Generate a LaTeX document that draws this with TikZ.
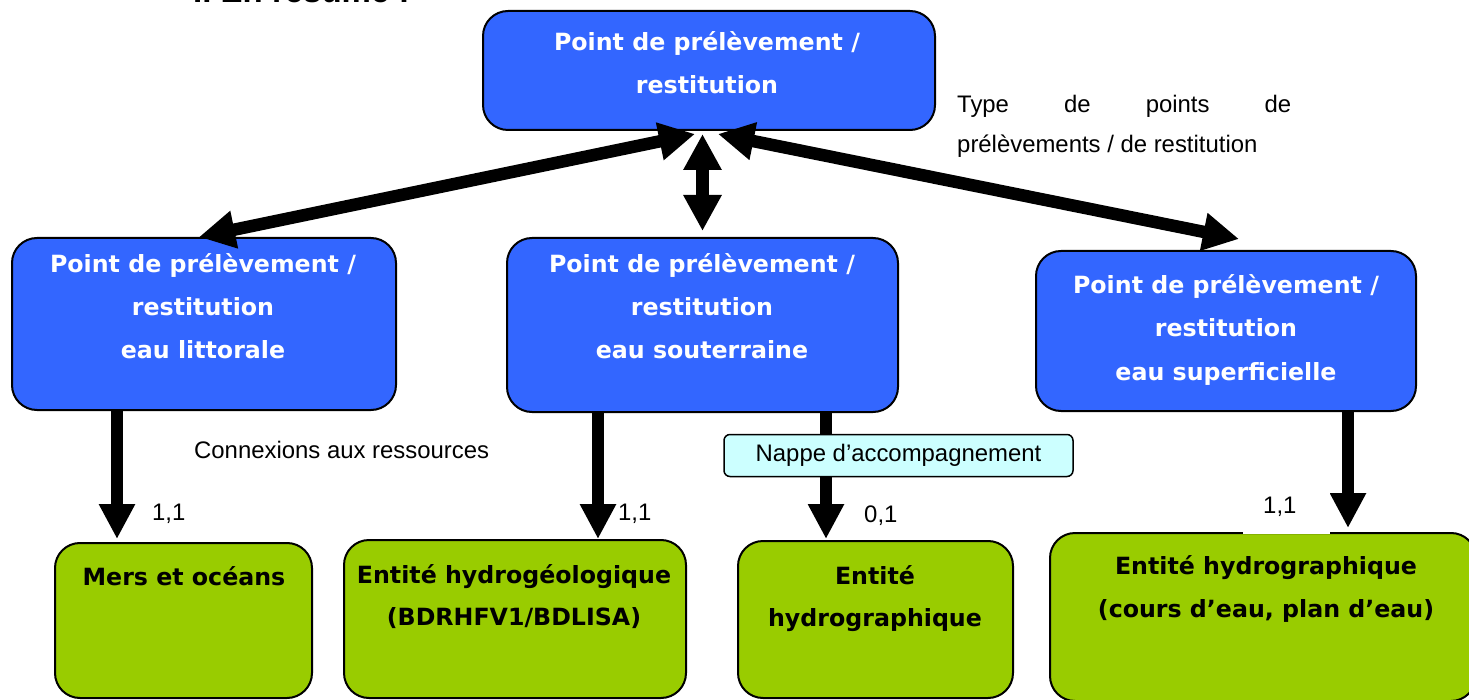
\documentclass[tikz,border=0pt]{standalone}
\usepackage{fontspec}
\setmainfont{Liberation Sans}
\newfontfamily\boxfont{DejaVu Sans}
\usetikzlibrary{arrows.meta,calc}
\definecolor{pblue}{HTML}{3366FF}
\definecolor{pgreen}{HTML}{99CC00}
\definecolor{pcyan}{HTML}{CCFFFF}
\tikzset{
  box/.style={draw=black, line width=2pt, rounded corners=25pt, inner sep=0pt},
  bluebox/.style={box, fill=pblue},
  greenbox/.style={box, fill=pgreen},
  boxtext/.style={font=\boxfont\bfseries\fontsize{23.7}{43}\selectfont, align=center, inner sep=0pt, anchor=base},
  wtext/.style={boxtext, text=white},
  btext/.style={boxtext, text=black},
  lbl/.style={font=\fontsize{23.9}{40}\selectfont, inner sep=0pt, anchor=base west},
  dblarrow/.style={line width=12.5pt, {Triangle[length=36pt,width=36pt]}-{Triangle[length=36pt,width=36pt]}},
  downarrow/.style={line width=12.5pt, -{Triangle[length=35pt,width=34pt]}},
}
\begin{document}
\begin{tikzpicture}[x=1pt,y=-1pt]
\useasboundingbox (0,0) rectangle (1469,700);

% heading (cut off at the top)
\node[font=\bfseries\fontsize{33}{33}\selectfont, anchor=base west, inner sep=0pt] (hd) at (193,3) {I. En résumé :};

% blue boxes
\node[bluebox, minimum width=452pt, minimum height=119pt] (T) at (709,70.5) {};
\node[bluebox, minimum width=384pt, minimum height=172pt] (L) at (204,324) {};
\node[bluebox, minimum width=391pt, minimum height=174pt] (M) at (702.5,325) {};
\node[bluebox, minimum width=380pt, minimum height=160pt] (R) at (1226,331) {};

% green boxes
\node[greenbox, minimum width=257pt, minimum height=155pt] (G1) at (183.5,620.5) {};
\node[greenbox, minimum width=342pt, minimum height=158pt] (G2) at (515,619) {};
\node[greenbox, minimum width=275pt, minimum height=157pt] (G3) at (875.5,619.5) {};
\node[greenbox, minimum width=426pt, minimum height=168pt] (G4) at (1263,617) {};

% box texts (anchor=base is the baseline of the last line)
\node[wtext] (Tt) at (707,94) {Point de prélèvement /\\restitution};
\node[wtext] (Lt) at (203,359) {Point de prélèvement /\\restitution\\eau littorale};
\node[wtext] (Mt) at (702,359) {Point de prélèvement /\\restitution\\eau souterraine};
\node[wtext, font=\boxfont\bfseries\fontsize{23.7}{44}\selectfont] (Rt) at (1226,381) {Point de prélèvement /\\restitution\\eau superficielle};
\node[btext] (G1t) at (184,585) {Mers et océans};
\node[btext, font=\boxfont\bfseries\fontsize{23.7}{42}\selectfont] (G2t) at (514,625) {Entité hydrogéologique\\(BDRHFV1/BDLISA)};
\node[btext, font=\boxfont\bfseries\fontsize{23.7}{42}\selectfont] (G3t) at (875,626) {Entité\\hydrographique};
\node[btext, font=\boxfont\bfseries\fontsize{23.7}{43.5}\selectfont] (G4t) at (1266,617.5) {Entité hydrographique\\(cours d’eau, plan d’eau)};

% double arrows from the top box
\draw[dblarrow] ([xshift=-14pt,yshift=-3pt]T.south) -- ([xshift=-5pt]L.north);
\draw[dblarrow] ($(T.south -| M.north)+(0,3)$) -- ($(M.north)+(0,-6)$);
\draw[dblarrow] ([xshift=9pt,yshift=-3pt]T.south) -- ([xshift=13pt,yshift=11pt]R.north);

% down arrows
\coordinate (xa) at (117,0);
\coordinate (xb) at (598,0);
\coordinate (xc) at (826,0);
\coordinate (xd) at (1348,0);
\draw[downarrow] (L.south -| xa) -- ($(G1.north -| xa)+(0,-3)$);
\draw[downarrow] (M.south -| xb) -- (G2.north -| xb);
\draw[downarrow] (M.south -| xc) -- ($(G3.north -| xc)+(0,-1)$);
\draw[downarrow] (R.south -| xd) -- ($(G4.north -| xd)+(0,-4)$);

% nappe box
\node[draw=black, line width=1.5pt, fill=pcyan, rounded corners=6pt, minimum width=349pt, minimum height=42pt, inner sep=0pt, font=\fontsize{23.9}{28}\selectfont] (N) at (898.5,455.5) {Nappe d’accompagnement};

% labels
\node[lbl, align=left] (ty) at (957,153) {\makebox[334pt][s]{Type de points de}\\prélèvements / de restitution};
\node[lbl] (cx) at (194,458) {Connexions aux ressources};
\node[lbl] (c1) at (152,520) {1,1};
\node[lbl] (c2) at (618,520) {1,1};
\node[lbl] (c3) at (864,522) {0,1};
\node[fill=white, inner sep=0pt, minimum width=87pt, minimum height=46pt] (cov) at (1286.5,511) {};
\node[lbl] (c4) at (1263,513) {1,1};
\end{tikzpicture}
\end{document}
